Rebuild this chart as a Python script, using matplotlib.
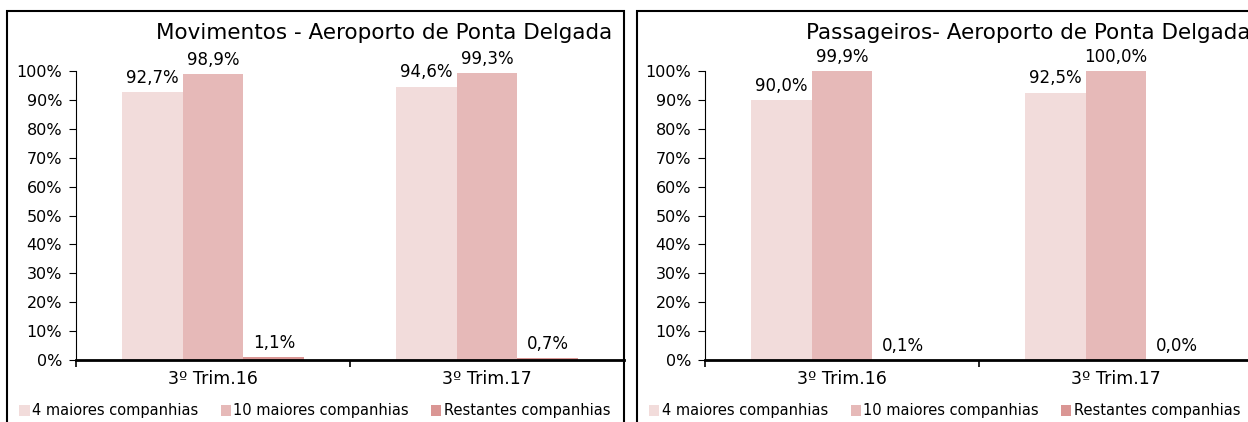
import matplotlib

matplotlib.use("Agg")
import matplotlib.pyplot as plt
from matplotlib.patches import Rectangle
from matplotlib.ticker import PercentFormatter

# Data (shares per quarter)
categories = ["3º Trim.16", "3º Trim.17"]
series_names = ["4 maiores companhias", "10 maiores companhias", "Restantes companhias"]
mov_values = [[92.7, 94.6], [98.9, 99.3], [1.1, 0.7]]
pax_values = [[90.0, 92.5], [99.9, 100.0], [0.1, 0.0]]
titles = ["Movimentos - Aeroporto de Ponta Delgada", "Passageiros- Aeroporto de Ponta Delgada"]
colors = ["#F2DCDB", "#E6B9B8", "#DA9694"]

W, H = 1248, 422
fig = plt.figure(figsize=(W / 100, H / 100), dpi=100)
plt.rcParams["font.family"] = ["DejaVu Sans"]


def fx(px):
    return px / W


def fy(py):
    return 1 - py / H


def draw_panel(frame_x0, frame_x1, ax_x0, values, title):
    # outer frame like the spreadsheet chart box
    fig.patches.append(
        Rectangle((fx(frame_x0), fy(440)), fx(frame_x1 - frame_x0), (440 - 11) / H,
                  transform=fig.transFigure, fill=False, edgecolor="black", lw=1.5)
    )
    ax = fig.add_axes([fx(ax_x0), fy(360), fx(548), (360 - 71) / H])
    bw = 0.667 / 3
    for i, (name, vals) in enumerate(zip(series_names, values)):
        xs = [c + (i - 1) * bw for c in range(len(categories))]
        ax.bar(xs, vals, width=bw, color=colors[i], label=name, zorder=2)
        for x, v in zip(xs, vals):
            ax.text(x, v + 1.8, f"{v:.1f}%".replace(".", ","), ha="center", va="bottom",
                    fontsize=12)
    ax.set_xlim(-0.5, 1.5)
    ax.set_ylim(0, 100)
    ax.set_yticks(range(0, 101, 10))
    ax.yaxis.set_major_formatter(PercentFormatter(decimals=0))
    ax.set_xticks([-0.5, 0.5, 1.5])
    ax.set_xticklabels([])
    ax.set_xticks([0, 1], minor=True)
    ax.set_xticklabels(categories, minor=True, fontsize=12.5)
    ax.tick_params(axis="x", which="minor", length=0, pad=7)
    ax.tick_params(axis="x", which="major", length=5, width=1.2)
    ax.tick_params(axis="y", length=5, width=0.8, labelsize=11.5, pad=5)
    for s in ["top", "right"]:
        ax.spines[s].set_visible(False)
    ax.spines["left"].set_linewidth(0.8)
    ax.spines["bottom"].set_linewidth(2)
    fig.text(fx(frame_x1 - 12), fy(33), title, ha="right", va="center", fontsize=15.5)
    return ax


ax1 = draw_panel(7, 624, 76, mov_values, titles[0])
ax2 = draw_panel(637, 1262, 705, pax_values, titles[1])

for ax, x0 in [(ax1, 12), (ax2, 642)]:
    ax.legend(loc="center left", bbox_to_anchor=(fx(x0), fy(411)), bbox_transform=fig.transFigure,
              ncol=3, frameon=False, fontsize=10.5, handlelength=0.7, handleheight=0.7,
              handletextpad=0.15, columnspacing=1.55, borderpad=0)

fig.savefig("out.png", dpi=100)
